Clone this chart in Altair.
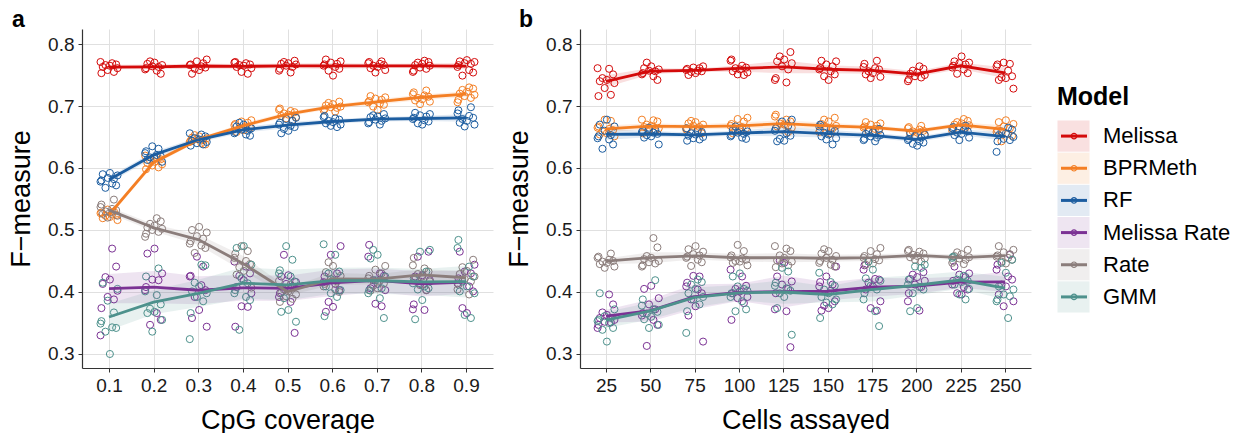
import altair as alt
import pandas as pd

MODELS = ["Melissa", "BPRMeth", "RF", "Melissa Rate", "Rate", "GMM"]
COLORS = ["#d40a0a", "#f47f24", "#1c5da0", "#7b3294", "#8b7d7b", "#4d918c"]

COVERAGE = [0.1, 0.2, 0.3, 0.4, 0.5, 0.6, 0.7, 0.8, 0.9]
CELLS = [25, 50, 75, 100, 125, 150, 175, 200, 225, 250]

# F-measure of each of the ten folds, one list per x value
cov_melissa = [
    [0.771, 0.769, 0.767, 0.766, 0.765, 0.763, 0.761, 0.758, 0.755, 0.753],
    [0.772, 0.770, 0.768, 0.766, 0.764, 0.763, 0.761, 0.759, 0.757, 0.752],
    [0.775, 0.772, 0.769, 0.767, 0.766, 0.764, 0.762, 0.760, 0.758, 0.752],
    [0.771, 0.770, 0.769, 0.767, 0.766, 0.765, 0.763, 0.761, 0.755, 0.752],
    [0.773, 0.771, 0.769, 0.768, 0.767, 0.765, 0.763, 0.760, 0.757, 0.754],
    [0.775, 0.772, 0.770, 0.768, 0.767, 0.765, 0.763, 0.760, 0.757, 0.749],
    [0.772, 0.771, 0.769, 0.768, 0.766, 0.765, 0.763, 0.761, 0.758, 0.754],
    [0.773, 0.771, 0.770, 0.768, 0.766, 0.765, 0.762, 0.760, 0.757, 0.755],
    [0.774, 0.772, 0.771, 0.769, 0.768, 0.766, 0.763, 0.758, 0.754, 0.749],
]
cov_bprmeth = [
    [0.533, 0.530, 0.528, 0.527, 0.525, 0.524, 0.523, 0.521, 0.519, 0.516],
    [0.620, 0.617, 0.614, 0.612, 0.610, 0.608, 0.606, 0.604, 0.601, 0.598],
    [0.653, 0.651, 0.649, 0.648, 0.647, 0.645, 0.644, 0.642, 0.640, 0.638],
    [0.677, 0.675, 0.673, 0.671, 0.669, 0.667, 0.665, 0.664, 0.661, 0.658],
    [0.696, 0.694, 0.692, 0.690, 0.688, 0.686, 0.684, 0.682, 0.680, 0.677],
    [0.707, 0.705, 0.703, 0.701, 0.699, 0.698, 0.697, 0.695, 0.693, 0.691],
    [0.716, 0.714, 0.712, 0.710, 0.708, 0.706, 0.704, 0.702, 0.699, 0.694],
    [0.725, 0.722, 0.719, 0.717, 0.715, 0.713, 0.711, 0.709, 0.707, 0.703],
    [0.730, 0.728, 0.726, 0.723, 0.720, 0.718, 0.716, 0.713, 0.710, 0.706],
]
cov_rf = [
    [0.592, 0.590, 0.588, 0.584, 0.582, 0.580, 0.578, 0.575, 0.572, 0.568],
    [0.635, 0.631, 0.627, 0.624, 0.621, 0.619, 0.617, 0.615, 0.613, 0.610],
    [0.656, 0.654, 0.651, 0.648, 0.646, 0.644, 0.642, 0.640, 0.638, 0.636],
    [0.673, 0.670, 0.667, 0.664, 0.662, 0.660, 0.658, 0.656, 0.654, 0.652],
    [0.681, 0.679, 0.676, 0.673, 0.670, 0.668, 0.666, 0.663, 0.660, 0.656],
    [0.684, 0.682, 0.680, 0.678, 0.676, 0.674, 0.672, 0.670, 0.668, 0.666],
    [0.687, 0.685, 0.683, 0.682, 0.680, 0.678, 0.676, 0.674, 0.672, 0.670],
    [0.689, 0.687, 0.685, 0.683, 0.681, 0.679, 0.677, 0.675, 0.672, 0.670],
    [0.698, 0.693, 0.688, 0.684, 0.681, 0.679, 0.676, 0.673, 0.670, 0.667],
]
cov_melissa_rate = [
    [0.470, 0.441, 0.424, 0.420, 0.413, 0.402, 0.392, 0.388, 0.374, 0.330],
    [0.470, 0.462, 0.430, 0.420, 0.419, 0.408, 0.403, 0.366, 0.355, 0.347],
    [0.457, 0.441, 0.426, 0.425, 0.411, 0.403, 0.392, 0.371, 0.358, 0.344],
    [0.449, 0.441, 0.430, 0.426, 0.419, 0.408, 0.398, 0.377, 0.376, 0.344],
    [0.460, 0.427, 0.425, 0.416, 0.413, 0.409, 0.398, 0.392, 0.384, 0.334],
    [0.474, 0.460, 0.430, 0.425, 0.416, 0.413, 0.403, 0.384, 0.376, 0.368],
    [0.476, 0.457, 0.430, 0.426, 0.419, 0.413, 0.406, 0.403, 0.381, 0.377],
    [0.465, 0.457, 0.427, 0.425, 0.419, 0.413, 0.403, 0.380, 0.372, 0.371],
    [0.465, 0.444, 0.433, 0.430, 0.422, 0.414, 0.409, 0.401, 0.374, 0.366],
]
cov_rate = [
    [0.549, 0.541, 0.537, 0.534, 0.532, 0.530, 0.528, 0.526, 0.523, 0.520],
    [0.519, 0.514, 0.510, 0.507, 0.504, 0.502, 0.500, 0.497, 0.494, 0.489],
    [0.505, 0.500, 0.496, 0.490, 0.486, 0.482, 0.478, 0.475, 0.471, 0.463],
    [0.474, 0.466, 0.462, 0.455, 0.450, 0.445, 0.440, 0.434, 0.428, 0.407],
    [0.418, 0.412, 0.408, 0.404, 0.401, 0.399, 0.396, 0.393, 0.389, 0.384],
    [0.448, 0.442, 0.432, 0.426, 0.421, 0.417, 0.413, 0.409, 0.404, 0.400],
    [0.442, 0.436, 0.430, 0.426, 0.422, 0.418, 0.414, 0.410, 0.406, 0.402],
    [0.455, 0.443, 0.438, 0.433, 0.429, 0.425, 0.421, 0.417, 0.411, 0.403],
    [0.452, 0.440, 0.434, 0.429, 0.425, 0.421, 0.417, 0.412, 0.404, 0.396],
]
cov_gmm = [
    [0.415, 0.405, 0.386, 0.367, 0.353, 0.349, 0.343, 0.342, 0.336, 0.300],
    [0.438, 0.425, 0.401, 0.395, 0.380, 0.373, 0.368, 0.366, 0.355, 0.336],
    [0.444, 0.443, 0.415, 0.409, 0.401, 0.398, 0.392, 0.385, 0.366, 0.324],
    [0.474, 0.471, 0.444, 0.422, 0.414, 0.403, 0.398, 0.392, 0.387, 0.339],
    [0.474, 0.452, 0.435, 0.430, 0.425, 0.417, 0.390, 0.371, 0.368, 0.352],
    [0.477, 0.460, 0.433, 0.430, 0.419, 0.409, 0.403, 0.398, 0.392, 0.361],
    [0.468, 0.460, 0.454, 0.425, 0.419, 0.406, 0.403, 0.398, 0.390, 0.358],
    [0.468, 0.465, 0.433, 0.422, 0.414, 0.409, 0.406, 0.404, 0.387, 0.356],
    [0.484, 0.471, 0.441, 0.425, 0.417, 0.409, 0.401, 0.398, 0.363, 0.358],
]

cells_melissa = [
    [0.761, 0.760, 0.751, 0.745, 0.742, 0.740, 0.737, 0.729, 0.718, 0.716],
    [0.770, 0.764, 0.761, 0.759, 0.757, 0.756, 0.753, 0.751, 0.748, 0.742],
    [0.764, 0.762, 0.761, 0.760, 0.758, 0.757, 0.756, 0.755, 0.753, 0.750],
    [0.775, 0.773, 0.765, 0.762, 0.761, 0.759, 0.756, 0.754, 0.751, 0.750],
    [0.787, 0.780, 0.775, 0.772, 0.769, 0.764, 0.759, 0.745, 0.742, 0.738],
    [0.773, 0.772, 0.767, 0.764, 0.761, 0.759, 0.756, 0.751, 0.748, 0.742],
    [0.773, 0.768, 0.763, 0.761, 0.759, 0.756, 0.753, 0.751, 0.747, 0.745],
    [0.764, 0.760, 0.757, 0.754, 0.752, 0.750, 0.748, 0.746, 0.743, 0.740],
    [0.780, 0.772, 0.770, 0.769, 0.767, 0.765, 0.762, 0.759, 0.753, 0.752],
    [0.770, 0.768, 0.767, 0.764, 0.757, 0.748, 0.746, 0.745, 0.742, 0.728],
]
cells_bprmeth = [
    [0.678, 0.676, 0.667, 0.665, 0.663, 0.661, 0.659, 0.656, 0.654, 0.651],
    [0.678, 0.677, 0.675, 0.670, 0.668, 0.666, 0.664, 0.662, 0.659, 0.656],
    [0.676, 0.674, 0.672, 0.670, 0.668, 0.666, 0.664, 0.662, 0.659, 0.656],
    [0.681, 0.679, 0.675, 0.671, 0.668, 0.666, 0.664, 0.661, 0.659, 0.656],
    [0.686, 0.683, 0.678, 0.675, 0.672, 0.670, 0.667, 0.665, 0.662, 0.658],
    [0.681, 0.678, 0.675, 0.671, 0.668, 0.666, 0.664, 0.661, 0.658, 0.656],
    [0.674, 0.672, 0.670, 0.668, 0.667, 0.665, 0.663, 0.661, 0.659, 0.657],
    [0.668, 0.666, 0.664, 0.662, 0.660, 0.659, 0.657, 0.655, 0.653, 0.650],
    [0.679, 0.676, 0.674, 0.672, 0.670, 0.669, 0.667, 0.665, 0.663, 0.660],
    [0.677, 0.674, 0.671, 0.667, 0.664, 0.661, 0.658, 0.655, 0.652, 0.643],
]
cells_rf = [
    [0.678, 0.670, 0.667, 0.660, 0.653, 0.651, 0.648, 0.646, 0.638, 0.631],
    [0.665, 0.662, 0.660, 0.658, 0.657, 0.655, 0.653, 0.651, 0.649, 0.638],
    [0.664, 0.661, 0.658, 0.656, 0.654, 0.652, 0.650, 0.648, 0.646, 0.644],
    [0.667, 0.664, 0.661, 0.659, 0.657, 0.655, 0.653, 0.651, 0.649, 0.647],
    [0.678, 0.675, 0.668, 0.664, 0.660, 0.656, 0.652, 0.647, 0.644, 0.643],
    [0.670, 0.667, 0.663, 0.660, 0.657, 0.654, 0.651, 0.648, 0.646, 0.638],
    [0.663, 0.661, 0.658, 0.655, 0.653, 0.651, 0.649, 0.647, 0.645, 0.643],
    [0.657, 0.654, 0.652, 0.649, 0.647, 0.645, 0.643, 0.641, 0.639, 0.636],
    [0.668, 0.666, 0.664, 0.661, 0.659, 0.657, 0.655, 0.653, 0.649, 0.645],
    [0.665, 0.662, 0.659, 0.656, 0.653, 0.650, 0.647, 0.645, 0.643, 0.626],
]
cells_melissa_rate = [
    [0.396, 0.380, 0.367, 0.363, 0.358, 0.355, 0.352, 0.351, 0.347, 0.342],
    [0.410, 0.405, 0.390, 0.380, 0.372, 0.366, 0.362, 0.355, 0.347, 0.313],
    [0.426, 0.425, 0.415, 0.409, 0.404, 0.398, 0.388, 0.377, 0.362, 0.320],
    [0.436, 0.425, 0.410, 0.405, 0.401, 0.398, 0.392, 0.390, 0.382, 0.355],
    [0.451, 0.447, 0.425, 0.417, 0.412, 0.405, 0.398, 0.372, 0.369, 0.311],
    [0.441, 0.425, 0.412, 0.416, 0.409, 0.402, 0.385, 0.378, 0.374, 0.370],
    [0.443, 0.436, 0.421, 0.420, 0.415, 0.409, 0.404, 0.385, 0.374, 0.370],
    [0.432, 0.428, 0.424, 0.421, 0.418, 0.412, 0.408, 0.398, 0.385, 0.370],
    [0.441, 0.430, 0.428, 0.424, 0.418, 0.412, 0.408, 0.404, 0.398, 0.396],
    [0.460, 0.444, 0.436, 0.425, 0.420, 0.412, 0.409, 0.396, 0.385, 0.377],
]
cells_rate = [
    [0.462, 0.457, 0.455, 0.452, 0.450, 0.449, 0.447, 0.445, 0.441, 0.439],
    [0.487, 0.472, 0.458, 0.455, 0.453, 0.450, 0.448, 0.446, 0.443, 0.441],
    [0.474, 0.469, 0.465, 0.461, 0.459, 0.457, 0.455, 0.452, 0.448, 0.442],
    [0.476, 0.466, 0.459, 0.456, 0.454, 0.452, 0.450, 0.449, 0.447, 0.443],
    [0.474, 0.470, 0.466, 0.459, 0.455, 0.451, 0.449, 0.446, 0.443, 0.440],
    [0.469, 0.466, 0.462, 0.458, 0.455, 0.452, 0.450, 0.447, 0.444, 0.441],
    [0.471, 0.466, 0.461, 0.458, 0.455, 0.453, 0.451, 0.449, 0.446, 0.444],
    [0.468, 0.466, 0.465, 0.462, 0.460, 0.458, 0.456, 0.454, 0.452, 0.449],
    [0.468, 0.464, 0.461, 0.458, 0.456, 0.454, 0.452, 0.450, 0.447, 0.445],
    [0.474, 0.468, 0.464, 0.461, 0.459, 0.457, 0.455, 0.452, 0.449, 0.446],
]
cells_gmm = [
    [0.398, 0.372, 0.361, 0.358, 0.355, 0.353, 0.350, 0.342, 0.339, 0.320],
    [0.419, 0.388, 0.378, 0.372, 0.368, 0.365, 0.360, 0.356, 0.347, 0.342],
    [0.420, 0.416, 0.412, 0.405, 0.398, 0.392, 0.388, 0.380, 0.369, 0.334],
    [0.430, 0.425, 0.402, 0.409, 0.405, 0.398, 0.392, 0.385, 0.372, 0.369],
    [0.439, 0.433, 0.415, 0.410, 0.406, 0.402, 0.398, 0.392, 0.374, 0.331],
    [0.431, 0.416, 0.410, 0.404, 0.398, 0.392, 0.388, 0.383, 0.380, 0.358],
    [0.449, 0.436, 0.422, 0.418, 0.410, 0.404, 0.398, 0.388, 0.369, 0.345],
    [0.444, 0.441, 0.439, 0.420, 0.412, 0.408, 0.404, 0.398, 0.374, 0.369],
    [0.457, 0.455, 0.426, 0.418, 0.420, 0.416, 0.412, 0.405, 0.396, 0.388],
    [0.452, 0.447, 0.431, 0.409, 0.404, 0.396, 0.393, 0.388, 0.385, 0.358],
]

COV_SERIES = dict(zip(MODELS, [cov_melissa, cov_bprmeth, cov_rf,
                               cov_melissa_rate, cov_rate, cov_gmm]))
CELL_SERIES = dict(zip(MODELS, [cells_melissa, cells_bprmeth, cells_rf,
                                cells_melissa_rate, cells_rate, cells_gmm]))

# horizontal jitter of the fold points, as a fraction of the category step
JITTER = [-0.19, 0.07, 0.16, -0.08, 0.02, -0.14, 0.19, -0.03, 0.11, -0.17]

FONT = "Liberation Sans"


def long_frame(xs, series, step):
    rows = []
    for m, model in enumerate(MODELS):
        for g, x in enumerate(xs):
            for i, v in enumerate(series[model][g]):
                off = JITTER[(i + 3 * g + 7 * m) % len(JITTER)]
                rows.append({"Model": model, "x": x, "xj": x + off * step, "F": v})
    return pd.DataFrame(rows)


def panel(df, xs, xdomain, fmt, xtitle, letter, letter_dx, width):
    xscale = alt.Scale(domain=xdomain, nice=False, zero=False)
    xaxis = alt.Axis(values=xs, format=fmt, title=xtitle)
    yscale = alt.Scale(domain=[0.2774, 0.8242], nice=False, zero=False)
    yaxis = alt.Axis(values=[0.3, 0.4, 0.5, 0.6, 0.7, 0.8], format=".1f",
                     title="F\u2212measure")
    color = alt.Color("Model:N", scale=alt.Scale(domain=MODELS, range=COLORS),
                      legend=None)

    base = alt.Chart(df)
    points = base.mark_point(filled=False, size=50, strokeWidth=1, opacity=1).encode(
        x=alt.X("xj:Q", scale=xscale, axis=xaxis),
        y=alt.Y("F:Q", scale=yscale, axis=yaxis),
        color=color,
    )
    summary = base.transform_aggregate(
        m="mean(F)", se="stderr(F)", groupby=["x", "Model"]
    ).transform_calculate(
        lo="datum.m - 1.96 * datum.se", hi="datum.m + 1.96 * datum.se"
    )
    band = summary.mark_area(opacity=0.13).encode(
        x=alt.X("x:Q", scale=xscale, axis=xaxis),
        y=alt.Y("lo:Q", scale=yscale, axis=yaxis),
        y2="hi:Q",
        color=color,
    )
    line = summary.mark_line(strokeWidth=2.8).encode(
        x=alt.X("x:Q", scale=xscale, axis=xaxis),
        y=alt.Y("m:Q", scale=yscale, axis=yaxis),
        color=color,
    )
    tag = alt.Chart(pd.DataFrame({"t": [letter]})).mark_text(
        align="left", baseline="alphabetic", fontSize=23, fontWeight="bold",
        font=FONT, color="black",
    ).encode(text="t:N", x=alt.value(letter_dx), y=alt.value(-2))
    return alt.layer(points, band, line, tag).properties(width=width, height=339)


cov_df = long_frame(COVERAGE, COV_SERIES, 0.1)
cell_df = long_frame(CELLS, CELL_SERIES, 25)

panel_a = panel(cov_df, COVERAGE, [0.0395, 0.9605], ".1f", "CpG coverage", "a", -70, 411)
panel_b = panel(cell_df, CELLS, [10.34, 264.66], "d", "Cells assayed", "b", -61, 451)

# key: one row per model with a tinted box, a line segment and a ring
KX = 14
key_df = pd.DataFrame({"Model": MODELS})
yband = alt.Scale(domain=MODELS, range=[91, 284], paddingInner=0, paddingOuter=0)
kcolor = alt.Color("Model:N", scale=alt.Scale(domain=MODELS, range=COLORS), legend=None)
kbase = alt.Chart(key_df)
k_box = kbase.mark_rect(opacity=0.12, stroke="white", strokeWidth=1).encode(
    y=alt.Y("Model:N", scale=yband, axis=None),
    x=alt.value(KX), x2=alt.value(KX + 33), color=kcolor,
)
k_line = kbase.mark_rule(strokeWidth=3).encode(
    y=alt.Y("Model:N", scale=yband, axis=None, bandPosition=0.5),
    x=alt.value(KX + 4), x2=alt.value(KX + 30), color=kcolor,
)
k_ring = kbase.mark_point(filled=False, size=30, strokeWidth=1.2, opacity=1).encode(
    y=alt.Y("Model:N", scale=yband, axis=None, bandPosition=0.5),
    x=alt.value(KX + 17), color=kcolor,
)
k_text = kbase.mark_text(align="left", baseline="middle", fontSize=22,
                         font=FONT, color="black").encode(
    y=alt.Y("Model:N", scale=yband, axis=None, bandPosition=0.5),
    x=alt.value(KX + 46), text="Model:N",
)
k_title = alt.Chart(pd.DataFrame({"t": ["Model"]})).mark_text(
    align="left", baseline="middle", fontSize=25, fontWeight="bold",
    font=FONT, color="black",
).encode(text="t:N", x=alt.value(KX), y=alt.value(68))
key = alt.layer(k_box, k_line, k_ring, k_text, k_title).properties(width=180, height=339)

chart = alt.hconcat(panel_a, panel_b, key, spacing=12).properties(
    padding={"left": 7, "top": 9, "right": 0, "bottom": 0}
).configure(font=FONT).configure_view(stroke=None).configure_axis(
    labelFontSize=19, labelColor="#1a1a1a", labelPadding=3,
    titleFontSize=27, titleFontWeight="normal", titleColor="black",
    domainColor="#333333", domainWidth=1.2, tickColor="#333333", tickSize=4,
    gridColor="#e0e0e0", gridWidth=1,
).configure_axisY(titlePadding=12, labelPadding=4).configure_axisX(
    titlePadding=12, labelPadding=4)

chart.save("out.html", embed_options={"renderer": "svg", "actions": False})
